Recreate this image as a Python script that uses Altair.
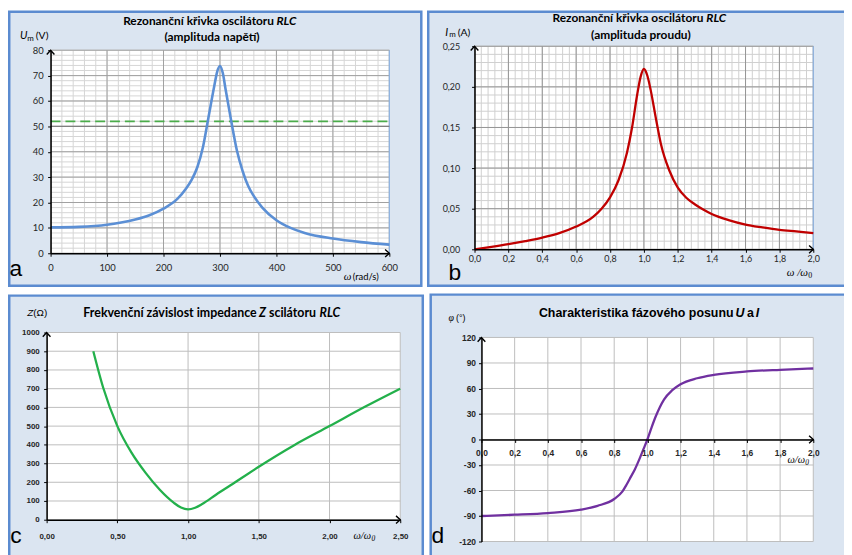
import altair as alt
import pandas as pd

# ---------------- data ----------------
# a) resonance curve, voltage amplitude
A_omega = [0, 50, 100, 125, 150, 175, 200, 225, 240, 250, 260, 270, 280, 290, 295,
           300, 305, 310, 320, 330, 340, 350, 360, 375, 400, 425, 450, 500, 550, 600]
A_um = [10.2, 10.4, 11.2, 12.1, 13.3, 15.0, 17.6, 21.5, 25.5, 29.0, 34.0, 42.0, 54.0, 66.0, 71.5,
        73.8, 71.0, 64.5, 52.0, 40.5, 32.5, 26.5, 22.5, 18.0, 13.0, 10.0, 8.0, 5.8, 4.4, 3.4]
A_level = 52          # dashed green level
A_ref = 50            # darker reference line
A_xticks = [0, 100, 200, 300, 400, 500, 600]
A_yticks = [0, 10, 20, 30, 40, 50, 60, 70, 80]
A_xminor = list(range(0, 601, 20))
A_yminor = list(range(0, 81, 2))

# b) resonance curve, current amplitude
B_x = [0, 0.1, 0.2, 0.3, 0.4, 0.5, 0.6, 0.7, 0.75, 0.8, 0.85, 0.9, 0.93, 0.96, 0.98,
       1.0, 1.02, 1.04, 1.07, 1.1, 1.15, 1.2, 1.25, 1.3, 1.35, 1.4, 1.5, 1.6, 1.7, 1.8, 1.9, 2.0]
B_im = [0, 0.003, 0.0063, 0.0101, 0.0144, 0.0199, 0.028, 0.040, 0.050, 0.064, 0.085, 0.119, 0.150, 0.190, 0.212,
        0.222, 0.214, 0.196, 0.162, 0.130, 0.097, 0.076, 0.0635, 0.0555, 0.049, 0.0435, 0.036, 0.0305,
        0.027, 0.024, 0.022, 0.020]
B_xticks = [0, 0.2, 0.4, 0.6, 0.8, 1.0, 1.2, 1.4, 1.6, 1.8, 2.0]
B_yticks = [0, 0.05, 0.10, 0.15, 0.20, 0.25]
B_xminor = [round(i * 0.04, 2) for i in range(51)]
B_yminor = [round(i * 0.01, 2) for i in range(26)]

# c) impedance
C_x = [0.33, 0.4, 0.5, 0.6, 0.7, 0.8, 0.9, 0.95, 1.0, 1.05, 1.1, 1.2, 1.3, 1.5, 1.75, 2.0, 2.25, 2.5]
C_z = [900, 705, 500, 358, 250, 160, 90, 65, 55, 64, 84, 135, 184, 283, 398, 500, 603, 700]
C_xticks = [0, 0.5, 1.0, 1.5, 2.0, 2.5]
C_yticks = [0, 100, 200, 300, 400, 500, 600, 700, 800, 900, 1000]

# d) phase shift
D_x = [0, 0.2, 0.4, 0.6, 0.7, 0.8, 0.85, 0.875, 0.9, 0.925, 0.95, 0.975, 1.0, 1.025, 1.05, 1.075,
       1.1, 1.15, 1.2, 1.3, 1.4, 1.6, 1.8, 2.0]
D_phi = [-90, -88.5, -86.5, -82.5, -78, -70, -61, -53, -44, -35, -24, -12, 0, 14, 27, 38,
         47, 58, 65, 72, 76, 80, 82, 83.5]
D_xticks = [0, 0.2, 0.4, 0.6, 0.8, 1.0, 1.2, 1.4, 1.6, 1.8, 2.0]
D_yticks = [-120, -90, -60, -30, 0, 30, 60, 90, 120]

# ---------------- styling helpers ----------------
W, H = 844, 547
FONT = "Lato"
SANS = "Liberation Sans"
SERIF = "Liberation Serif"
BLUE = "#5b8bd0"
FILL = "#dbe5f1"
one = alt.Data(values=[{"k": 0}])
UP = "M-1,1.1L0,0L1,1.1"
RIGHT = "M-1.1,-1L0,0L-1.1,1"


def rect_px(x1, y1, x2, y2, color):
    return alt.Chart(one).mark_rect(color=color, opacity=1).encode(
        x=alt.value(x1), x2=alt.value(x2), y=alt.value(y1), y2=alt.value(y2))


def frame(x1, y1, x2, y2, bw=2.5):
    return [rect_px(x1, y1, x2, y2, BLUE), rect_px(x1 + bw, y1 + bw, x2 - bw, y2 - bw, FILL)]


def txt(x, y, s, size=11, bold=False, italic=False, align="center", font=FONT, color="#000000"):
    return alt.Chart(one).mark_text(
        text=s, fontSize=size, fontWeight="bold" if bold else "normal",
        fontStyle="italic" if italic else "normal", align=align, baseline="middle",
        font=font, color=color).encode(x=alt.value(x), y=alt.value(y))


def axis(orient, vals, offset, pad, size, expr=None, font=FONT, bold=False):
    kw = dict(orient=orient, values=vals, offset=offset, grid=False,
              domainColor="#000000", domainWidth=1.5, tickColor="#000000", tickSize=3,
              tickWidth=1, labelPadding=pad, labelFontSize=size, labelFont=font,
              labelColor="#262626", labelFlush=False, labelOverlap=False, title=None,
              zindex=2, labelFontWeight="bold" if bold else "normal")
    if expr:
        kw["labelExpr"] = expr
    return alt.Axis(**kw)


def comma(fmt):
    return "replace(format(datum.value, '%s'), '.', ',')" % fmt


PLAIN = "'' + datum.value"


class Panel:
    def __init__(self, xdom, xrng, ydom, yrng, ax_x, ax_y):
        self.xs = alt.Scale(domain=xdom, range=xrng, nice=False, zero=False)
        self.ys = alt.Scale(domain=ydom, range=yrng, nice=False, zero=False)
        self.xd, self.yd = xdom, ydom
        self.ax, self.ay = ax_x, ax_y

    def X(self, f):
        return alt.X(f, scale=self.xs, axis=self.ax)

    def Y(self, f):
        return alt.Y(f, scale=self.ys, axis=self.ay)

    def XD(self, v):
        return alt.XDatum(v, scale=self.xs, axis=self.ax)

    def YD(self, v):
        return alt.YDatum(v, scale=self.ys, axis=self.ay)

    def bg(self):
        return alt.Chart(one).mark_rect(color="white", opacity=1).encode(
            x=self.XD(self.xd[0]), x2=alt.X2Datum(self.xd[1]),
            y=self.YD(self.yd[0]), y2=alt.Y2Datum(self.yd[1]))

    def vgrid(self, vals, color, w=1.0, dash=None):
        kw = dict(color=color, strokeWidth=w)
        if dash:
            kw["strokeDash"] = dash
        return alt.Chart(pd.DataFrame({"v": vals})).mark_rule(**kw).encode(
            x=self.X("v:Q"), y=self.YD(self.yd[0]), y2=alt.Y2Datum(self.yd[1]))

    def hgrid(self, vals, color, w=1.0, dash=None):
        kw = dict(color=color, strokeWidth=w)
        if dash:
            kw["strokeDash"] = dash
        return alt.Chart(pd.DataFrame({"v": vals})).mark_rule(**kw).encode(
            y=self.Y("v:Q"), x=self.XD(self.xd[0]), x2=alt.X2Datum(self.xd[1]))

    def curve(self, xv, yv, color, w=2.3):
        df = pd.DataFrame({"x": xv, "y": yv})
        return alt.Chart(df).mark_line(color=color, strokeWidth=w, interpolate="monotone").encode(
            x=self.X("x:Q"), y=self.Y("y:Q"))

    def arrow(self, xv, yv, shape):
        return alt.Chart(one).mark_point(shape=shape, size=60, filled=False, color="#000000",
                                         strokeWidth=1.4, opacity=1).encode(
            x=self.XD(xv), y=self.YD(yv))


# ---------------- panel a ----------------
pa = Panel([0, 600], [43, 385], [0, 80], [245, 40],
           axis("bottom", A_xticks, 245 - H, 6, 9.5),
           axis("left", A_yticks, -43, 4.5, 9.5))
panelA = alt.layer(
    *frame(0, 0, 418.5, 279),
    pa.bg(),
    pa.vgrid(A_xminor, "#d6d6d6"),
    pa.hgrid(A_yminor, "#d6d6d6"),
    pa.vgrid(A_xticks, "#a0a0a0"),
    pa.hgrid(A_yticks, "#a0a0a0"),
    pa.vgrid([600], "#8fb4e3", 1.2),
    pa.hgrid([A_ref], "#7f7f7f", 1.3),
    pa.hgrid([A_level], "#4bac4b", 1.8, [10, 5]),
    pa.curve(A_omega, A_um, "#5b8fd5", w=2.6),
    pa.arrow(0, 80, UP),
    pa.arrow(600, 0, RIGHT),
    txt(268.5, 11, "Rezonanční křivka oscilátoru", 12, True, align="right"),
    txt(271, 11, "RLC", 12, True, True, align="left"),
    txt(206, 27, "(amplituda napětí)", 12, True),
    txt(12, 26, "U", 11, italic=True, align="left"),
    txt(19.5, 28.5, "m", 8, align="left"),
    txt(28, 26, "(V)", 10.5, align="left"),
    txt(339, 269, "ω", 11, italic=True, align="left", font=SERIF),
    txt(348, 269, "(rad/s)", 9.5, align="left"),
    txt(8, 261, "a", 23, font=SANS),
)

# ---------------- panel b ----------------
pb = Panel([0, 2], [471, 813], [0, 0.25], [241, 36],
           axis("bottom", B_xticks, 241 - H, 2.5, 9, comma(".1f")),
           axis("left", B_yticks, -471, 12, 9, comma(".2f")))
panelB = alt.layer(
    *frame(423, 0, 850, 279),
    pb.bg(),
    pb.vgrid(B_xminor, "#cfcfcf"),
    pb.hgrid(B_yminor, "#cfcfcf"),
    pb.vgrid(B_xticks, "#959595"),
    pb.hgrid(B_yticks, "#959595"),
    pb.vgrid([2.0], "#8fb4e3", 1.2),
    pb.curve(B_x, B_im, "#c00000"),
    pb.arrow(0, 0.25, UP),
    pb.arrow(2.0, 0, RIGHT),
    txt(702, 8, "Rezonanční křivka oscilátoru", 12, True, align="right"),
    txt(705, 8, "RLC", 12, True, True, align="left"),
    txt(639, 24.5, "(amplituda proudu)", 12, True),
    txt(441.5, 23, "I", 11, italic=True, align="left"),
    txt(445.5, 25, "m", 8, align="left"),
    txt(454, 23, "(A)", 10.5, align="left"),
    txt(807.5, 265, "ω /ω", 11, italic=True, align="right", font=SERIF),
    txt(808, 268, "0", 8, align="left", font=SERIF),
    txt(451, 265, "b", 23, font=SANS),
)

# ---------------- panel c ----------------
pc = Panel([0, 2.5], [39, 396], [0, 1000], [514, 325],
           axis("bottom", C_xticks, 514 - H, 9.5, 8, comma(".2f"), font=SANS, bold=True),
           axis("left", C_yticks, -39, 4.5, 8, PLAIN, font=SANS, bold=True))
panelC = alt.layer(
    *frame(0, 286.5, 420, 560),
    pc.bg(),
    pc.vgrid(C_xticks, "#bdbdbd"),
    pc.hgrid(C_yticks, "#bdbdbd"),
    pc.curve(C_x, C_z, "#23b04b"),
    pc.arrow(0, 1000, UP),
    pc.arrow(2.5, 0, RIGHT),
    txt(251, 305, "Frekvenční závislost impedance", 12.5, True, align="right"),
    txt(253.5, 305, "Z", 12.5, True, True, align="left"),
    txt(263.5, 305, "scilátoru", 12.5, True, align="left"),
    txt(314.5, 305, "RLC", 12.5, True, True, align="left"),
    txt(19.5, 305, "Z", 10, italic=True, align="left", font=SANS),
    txt(25.5, 305, "(Ω)", 10, align="left", font=SANS),
    txt(366.5, 530, "ω/ω", 10.5, italic=True, align="right", font=SERIF),
    txt(367, 533, "0", 7.5, italic=True, align="left", font=SERIF),
    txt(8, 530, "c", 23, font=SANS),
)

# ---------------- panel d ----------------
pd_ = Panel([0, 2], [478, 813], [-120, 120], [536, 330],
            axis("bottom", D_xticks, 433 - H, 6.5, 8.5, comma(".1f"), font=SANS, bold=True),
            axis("left", D_yticks, -478, 3, 8.5, PLAIN, font=SANS, bold=True))
panelD = alt.layer(
    *frame(425.5, 285.5, 850, 560),
    pd_.bg(),
    pd_.vgrid(D_xticks, "#bdbdbd"),
    pd_.hgrid(D_yticks, "#bdbdbd"),
    pd_.curve(D_x, D_phi, "#7030a0"),
    pd_.arrow(0, 120, UP),
    pd_.arrow(2.0, 0, RIGHT),
    txt(732.5, 305, "Charakteristika fázového posunu", 12.5, True, align="right", font=SANS),
    txt(734.5, 305, "U", 12.5, True, True, align="left", font=SANS),
    txt(749.5, 305, "a", 12.5, True, align="center", font=SANS),
    txt(755, 305, "I", 12.5, True, True, align="left", font=SANS),
    txt(444.7, 310, "φ", 10, italic=True, align="left", font=SERIF),
    txt(452.3, 310, "(°)", 9, align="left", font=SANS),
    txt(804.7, 454, "ω/ω", 10.5, italic=True, align="right", font=SERIF),
    txt(805, 457, "0", 7.5, italic=True, align="left", font=SERIF),
    txt(434, 530, "d", 23, font=SANS),
)

chart = alt.layer(panelA, panelB, panelC, panelD).resolve_scale(
    x="independent", y="independent"
).properties(
    width=W, height=H, padding=0,
    autosize=alt.AutoSizeParams(type="none"),
    background="white",
).configure_view(stroke=None)

chart.save("out.html", embed_options={"renderer": "svg", "actions": False})
